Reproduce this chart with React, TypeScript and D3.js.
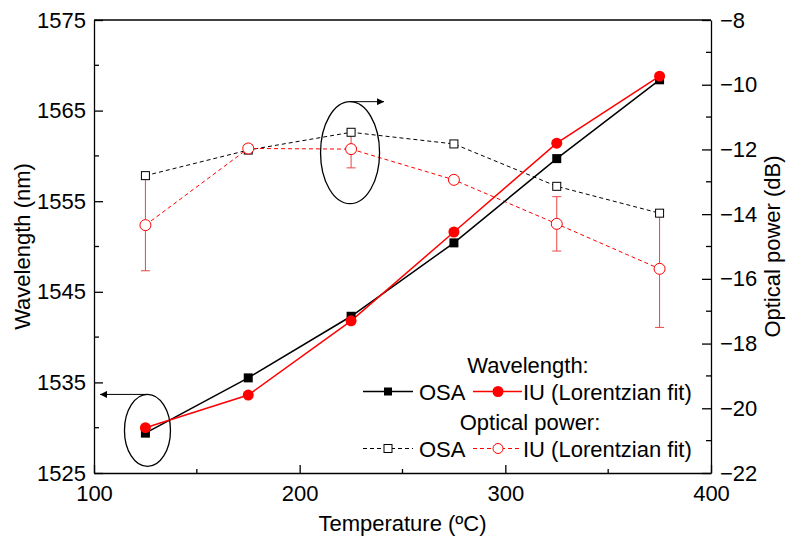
import { useEffect, useRef } from 'react';
import * as d3 from 'd3';

// temperature (ºC)
const temps = [125, 175, 225, 275, 325, 375];
// wavelength (nm)
const wlOSA = [1529.4, 1535.5, 1542.3, 1550.4, 1559.7, 1568.4];
const wlIU = [1530.0, 1533.6, 1541.8, 1551.6, 1561.4, 1568.8];
// optical power (dB)
const pwOSA = [-12.81, -12.02, -11.47, -11.83, -13.14, -13.97];
const pwIU = [-14.34, -11.97, -11.99, -12.94, -14.3, -15.69];
const pwIUerr = [1.41, 0.12, 0.58, 0.1, 0.84, 1.81];

const xTicks = [100, 200, 300, 400];
const xMinor = [150, 250, 350];
const yLTicks = [1525, 1535, 1545, 1555, 1565, 1575];
const yLMinor = [1530, 1540, 1550, 1560, 1570];
const yRTicks = [-22, -20, -18, -16, -14, -12, -10, -8];
const yRMinor = [-21, -19, -17, -15, -13, -11, -9];

const FONT = '"Liberation Sans", Arial, sans-serif';
const FS = '22px';
const RED = '#ff0000';

const App = () => {
  const svgRef = useRef<SVGSVGElement>(null);

  useEffect(() => {
    const width = 792;
    const height = 548;
    const m = { top: 20, right: 81, bottom: 75, left: 94 };

    const svg = d3.select(svgRef.current).attr('width', width).attr('height', height);
    svg.selectAll('*').remove();

    const x = d3.scaleLinear().domain([100, 400]).range([m.left, width - m.right]);
    const yL = d3.scaleLinear().domain([1525, 1575]).range([height - m.bottom, m.top]);
    const yR = d3.scaleLinear().domain([-22, -8]).range([height - m.bottom, m.top]);
    const x0 = m.left;
    const x1 = width - m.right;
    const yb = height - m.bottom;

    const styleAxis = (g) => {
      g.selectAll('path').attr('stroke', '#000').attr('stroke-width', 1.3);
      g.selectAll('line').attr('stroke', '#000').attr('stroke-width', 1.3);
      g.selectAll('text').attr('fill', '#000').style('font-family', FONT).style('font-size', FS);
    };

    // box top
    svg.append('line').attr('x1', x0).attr('x2', x1).attr('y1', m.top).attr('y2', m.top)
      .attr('stroke', '#000').attr('stroke-width', 1.3);

    // bottom axis
    const gx = svg.append('g').attr('transform', `translate(0,${yb})`)
      .call(d3.axisBottom(x).tickValues(xTicks).tickSize(-8).tickSizeOuter(0).tickPadding(12).tickFormat(d3.format('d')));
    gx.selectAll('.minor').data(xMinor).enter().append('line').attr('class', 'minor')
      .attr('x1', (d) => x(d)).attr('x2', (d) => x(d)).attr('y1', 0).attr('y2', -4);
    styleAxis(gx);

    // left axis
    const gl = svg.append('g').attr('transform', `translate(${x0},0)`)
      .call(d3.axisLeft(yL).tickValues(yLTicks).tickSize(-9).tickSizeOuter(0).tickPadding(8).tickFormat(d3.format('d')));
    gl.selectAll('.minor').data(yLMinor).enter().append('line').attr('class', 'minor')
      .attr('y1', (d) => yL(d)).attr('y2', (d) => yL(d)).attr('x1', 0).attr('x2', 5);
    styleAxis(gl);

    // right axis
    const gr = svg.append('g').attr('transform', `translate(${x1},0)`)
      .call(d3.axisRight(yR).tickValues(yRTicks).tickSize(-9).tickSizeOuter(0).tickPadding(9).tickFormat(d3.format('d')));
    gr.selectAll('.minor').data(yRMinor).enter().append('line').attr('class', 'minor')
      .attr('y1', (d) => yR(d)).attr('y2', (d) => yR(d)).attr('x1', 0).attr('x2', -5);
    styleAxis(gr);

    // axis titles
    svg.append('text').attr('x', (x0 + x1) / 2).attr('y', 531).attr('text-anchor', 'middle')
      .style('font-family', FONT).style('font-size', FS).text('Temperature (ºC)');
    svg.append('text').attr('transform', `translate(30,${(m.top + yb) / 2}) rotate(-90)`).attr('text-anchor', 'middle')
      .style('font-family', FONT).style('font-size', FS).text('Wavelength (nm)');
    svg.append('text').attr('transform', `translate(780,${(m.top + yb) / 2}) rotate(-90)`).attr('text-anchor', 'middle')
      .style('font-family', FONT).style('font-size', FS).text('Optical power (dB)');

    const line = (ys, scale) => d3.line<number>().x((_, i) => x(temps[i])).y((d) => scale(d))(ys);

    // optical power: dashed lines
    svg.append('path').attr('d', line(pwOSA, yR)).attr('fill', 'none').attr('stroke', '#000')
      .attr('stroke-width', 1).attr('stroke-dasharray', '4,3');
    svg.append('path').attr('d', line(pwIU, yR)).attr('fill', 'none').attr('stroke', RED)
      .attr('stroke-width', 1).attr('stroke-dasharray', '4,3');

    // error bars
    const eb = svg.append('g').attr('stroke', '#e84545').attr('stroke-width', 1);
    temps.forEach((t, i) => {
      const cx = x(t);
      const top = yR(pwIU[i] + pwIUerr[i]);
      const bot = yR(pwIU[i] - pwIUerr[i]);
      eb.append('line').attr('x1', cx).attr('x2', cx).attr('y1', top).attr('y2', bot);
      eb.append('line').attr('x1', cx - 4.5).attr('x2', cx + 4.5).attr('y1', top).attr('y2', top);
      eb.append('line').attr('x1', cx - 4.5).attr('x2', cx + 4.5).attr('y1', bot).attr('y2', bot);
    });

    // open markers
    svg.append('g').selectAll('rect').data(pwOSA).enter().append('rect')
      .attr('x', (_, i) => x(temps[i]) - 4).attr('y', (d) => yR(d) - 4).attr('width', 8).attr('height', 8)
      .attr('fill', '#fff').attr('stroke', '#000').attr('stroke-width', 1);
    svg.append('g').selectAll('circle').data(pwIU).enter().append('circle')
      .attr('cx', (_, i) => x(temps[i])).attr('cy', (d) => yR(d)).attr('r', 5.5)
      .attr('fill', '#fff').attr('stroke', RED).attr('stroke-width', 1);

    // wavelength: solid lines
    svg.append('path').attr('d', line(wlOSA, yL)).attr('fill', 'none').attr('stroke', '#000').attr('stroke-width', 1.5);
    svg.append('path').attr('d', line(wlIU, yL)).attr('fill', 'none').attr('stroke', RED).attr('stroke-width', 1.5);
    svg.append('g').selectAll('rect').data(wlOSA).enter().append('rect')
      .attr('x', (_, i) => x(temps[i]) - 4.5).attr('y', (d) => yL(d) - 4.5).attr('width', 9).attr('height', 9)
      .attr('fill', '#000');
    svg.append('g').selectAll('circle').data(wlIU).enter().append('circle')
      .attr('cx', (_, i) => x(temps[i])).attr('cy', (d) => yL(d)).attr('r', 5.5).attr('fill', RED);

    // annotations: ellipses with arrows
    const marker = svg.append('defs').append('marker').attr('id', 'arr').attr('viewBox', '0 0 10 10')
      .attr('refX', 10).attr('refY', 5).attr('markerWidth', 10).attr('markerHeight', 7)
      .attr('markerUnits', 'userSpaceOnUse').attr('orient', 'auto');
    marker.append('path').attr('d', 'M0,0L10,5L0,10Z').attr('fill', '#000');

    const e1x = x(126);
    const e1y = yL(1529.7);
    svg.append('ellipse').attr('cx', e1x).attr('cy', e1y).attr('rx', 23).attr('ry', 36)
      .attr('fill', 'none').attr('stroke', '#000').attr('stroke-width', 1.3);
    svg.append('line').attr('x1', e1x).attr('x2', x0 + 6).attr('y1', e1y - 36).attr('y2', e1y - 36)
      .attr('stroke', '#000').attr('stroke-width', 1).attr('marker-end', 'url(#arr)');

    const e2x = x(224.5);
    const e2y = yR(-12.1);
    svg.append('ellipse').attr('cx', e2x).attr('cy', e2y).attr('rx', 29.5).attr('ry', 51)
      .attr('fill', 'none').attr('stroke', '#000').attr('stroke-width', 1.3);
    svg.append('line').attr('x1', e2x).attr('x2', e2x + 34).attr('y1', e2y - 51).attr('y2', e2y - 51)
      .attr('stroke', '#000').attr('stroke-width', 1).attr('marker-end', 'url(#arr)');

    // legend
    const lg = svg.append('g').style('font-family', FONT).style('font-size', FS);
    lg.append('text').attr('x', 528).attr('y', 373).attr('text-anchor', 'middle').text('Wavelength:');
    lg.append('text').attr('x', 530).attr('y', 429.5).attr('text-anchor', 'middle').text('Optical power:');

    const rows = [
      { y: 391.5, dash: null, lw: 1.5, open: false },
      { y: 448.5, dash: '4,3', lw: 1, open: true },
    ];
    rows.forEach((r) => {
      // OSA
      lg.append('line').attr('x1', 363).attr('x2', 413).attr('y1', r.y).attr('y2', r.y)
        .attr('stroke', '#000').attr('stroke-width', r.lw).attr('stroke-dasharray', r.dash);
      lg.append('rect').attr('x', 384).attr('y', r.y - 4).attr('width', 8).attr('height', 8)
        .attr('fill', r.open ? '#fff' : '#000').attr('stroke', '#000').attr('stroke-width', r.open ? 1 : 0);
      lg.append('text').attr('x', 419).attr('y', r.y + 8).text('OSA');
      // IU
      lg.append('line').attr('x1', 473).attr('x2', 522).attr('y1', r.y).attr('y2', r.y)
        .attr('stroke', RED).attr('stroke-width', r.lw).attr('stroke-dasharray', r.dash);
      lg.append('circle').attr('cx', 498).attr('cy', r.y).attr('r', r.open ? 5 : 5.5)
        .attr('fill', r.open ? '#fff' : RED).attr('stroke', RED).attr('stroke-width', r.open ? 1 : 0);
      lg.append('text').attr('x', 523).attr('y', r.y + 8).text('IU (Lorentzian fit)');
    });
  }, []);

  return (
    <svg ref={svgRef} style={{ position: 'absolute', left: 0, top: 0, background: '#fff' }}></svg>
  );
};

export default App;
